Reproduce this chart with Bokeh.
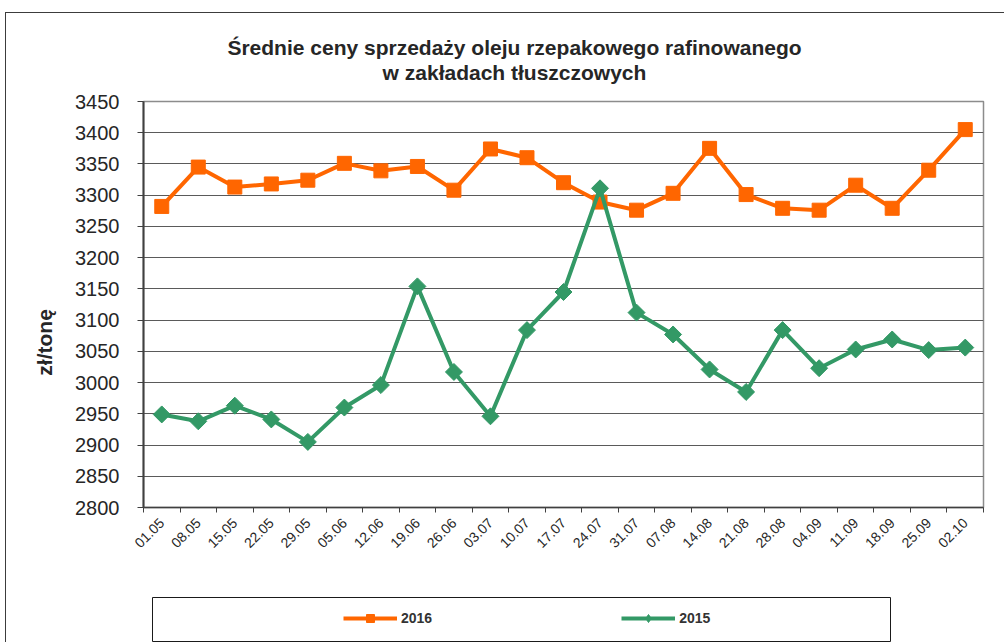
import math
from bokeh.plotting import figure
from bokeh.layouts import column, row
from bokeh.models import Range1d, FixedTicker, Legend, LegendItem, Label, Spacer
from bokeh.embed import file_html
from bokeh.resources import INLINE

dates = ["01.05", "08.05", "15.05", "22.05", "29.05", "05.06", "12.06", "19.06",
         "26.06", "03.07", "10.07", "17.07", "24.07", "31.07", "07.08", "14.08",
         "21.08", "28.08", "04.09", "11.09", "18.09", "25.09", "02.10"]
y2016 = [3282, 3345, 3313, 3318, 3324, 3351, 3339, 3346, 3308, 3374, 3360, 3320,
         3289, 3276, 3303, 3375, 3301, 3279, 3276, 3316, 3279, 3340, 3405]
y2015 = [2949, 2938, 2963, 2941, 2905, 2960, 2996, 3154, 3017, 2946, 3084, 3145,
         3311, 3112, 3077, 3021, 2985, 3084, 3023, 3053, 3069, 3052, 3056]
series_names = ["2016", "2015"]
title_lines = ["Średnie ceny sprzedaży oleju rzepakowego rafinowanego",
               "w zakładach tłuszczowych"]
y_label = "zł/tonę"
y_ticks = list(range(2800, 3451, 50))

ORANGE = "#FF6600"
GREEN = "#339966"
FONT = "Liberation Sans"
TXT = "#262626"

# ---------- title strip ----------
W, TH = 998, 75
pt = figure(width=W, height=TH, output_backend="svg", toolbar_location=None,
            x_range=Range1d(0, W), y_range=Range1d(0, TH),
            x_axis_location=None, y_axis_location=None)
pt.grid.visible = False
pt.outline_line_color = None
pt.min_border = 0
for t, ty in zip(title_lines, [41, 16]):
    pt.add_layout(Label(x=508, y=ty, x_units="canvas", text=t, text_align="center",
                        text_baseline="middle", text_font=FONT,
                        text_font_style="bold", text_font_size="21px",
                        text_color=TXT))

# ---------- main chart ----------
x = [i + 0.5 for i in range(len(dates))]

p = figure(width=W, height=508, output_backend="svg", toolbar_location=None,
           x_range=Range1d(0, len(dates)), y_range=Range1d(y_ticks[0], y_ticks[-1]),
           min_border_left=137, min_border_right=21, min_border_top=13,
           min_border_bottom=89)

p.outline_line_color = "#8c8c8c"
p.outline_line_width = 1.5
p.xgrid.visible = False
p.ygrid.ticker = FixedTicker(ticks=y_ticks)
p.ygrid.grid_line_color = "#5a5a5a"
p.ygrid.grid_line_width = 1

ya = p.yaxis[0]
ya.ticker = FixedTicker(ticks=y_ticks)
ya.major_label_text_font = FONT
ya.major_label_text_font_size = "20px"
ya.major_label_text_color = TXT
ya.major_tick_out = 6
ya.major_tick_in = 0
ya.minor_tick_out = 0
ya.minor_tick_in = 0
ya.major_tick_line_color = "#404040"
ya.axis_line_color = "#404040"
ya.axis_line_width = 2
ya.major_label_standoff = 18
# trailing no-break spaces move the centred label down, as in the original
ya.axis_label = y_label + "\u00a0" * 13
ya.axis_label_text_font = FONT
ya.axis_label_text_font_style = "bold"
ya.axis_label_text_font_size = "21px"
ya.axis_label_text_color = TXT
ya.axis_label_standoff = 16

xa = p.xaxis[0]
xa.ticker = FixedTicker(ticks=x, minor_ticks=list(range(len(dates) + 1)))
xa.major_label_overrides = {xi: d for xi, d in zip(x, dates)}
xa.major_label_orientation = math.pi / 4
xa.major_label_text_font = FONT
xa.major_label_text_font_size = "14px"
xa.major_label_text_color = TXT
xa.major_tick_out = 0
xa.major_tick_in = 0
xa.minor_tick_out = 5
xa.minor_tick_in = 0
xa.minor_tick_line_color = "#404040"
xa.axis_line_color = "#404040"
xa.axis_line_width = 1.5
xa.major_label_standoff = 8

p.line(x, y2016, line_color=ORANGE, line_width=4)
p.scatter(x, y2016, marker="square", size=14, color=ORANGE)
p.line(x, y2015, line_color=GREEN, line_width=4)
p.scatter(x, y2015, marker="square", angle=math.pi / 4, size=12, color=GREEN)

# ---------- legend box (series drawn out of view, used only as legend glyphs) ----------
LW, LH = 740, 46
pl = figure(width=LW, height=LH, output_backend="svg", toolbar_location=None,
            x_range=Range1d(-2, -1), y_range=Range1d(-2, -1),
            x_axis_location=None, y_axis_location=None)
pl.grid.visible = False
pl.min_border = 1
pl.outline_line_color = "#1a1a1a"
pl.outline_line_width = 1
l1 = pl.line(x, y2016, line_color=ORANGE, line_width=4)
m1 = pl.scatter(x, y2016, marker="square", size=14, color=ORANGE)
l2 = pl.line(x, y2015, line_color=GREEN, line_width=4)
m2 = pl.scatter(x, y2015, marker="diamond", size=14, color=GREEN)
legend = Legend(items=[LegendItem(label=series_names[0], renderers=[l1, m1]),
                       LegendItem(label=series_names[1], renderers=[l2, m2])],
                location=(191, 13), orientation="horizontal",
                padding=0, margin=0, spacing=189, glyph_width=54, glyph_height=20,
                label_standoff=4, border_line_alpha=0, background_fill_alpha=0,
                label_text_font=FONT, label_text_font_style="bold",
                label_text_font_size="14px", label_text_color="#333333")
pl.add_layout(legend)

layout = column(pt, p, row(Spacer(width=145, height=LH), pl))
layout.styles = {"margin-left": "5px", "margin-top": "12px",
                 "border-left": "1px solid #3c3c3c", "border-top": "1px solid #3c3c3c"}

open("out.html", "w").write(file_html(layout, INLINE))
